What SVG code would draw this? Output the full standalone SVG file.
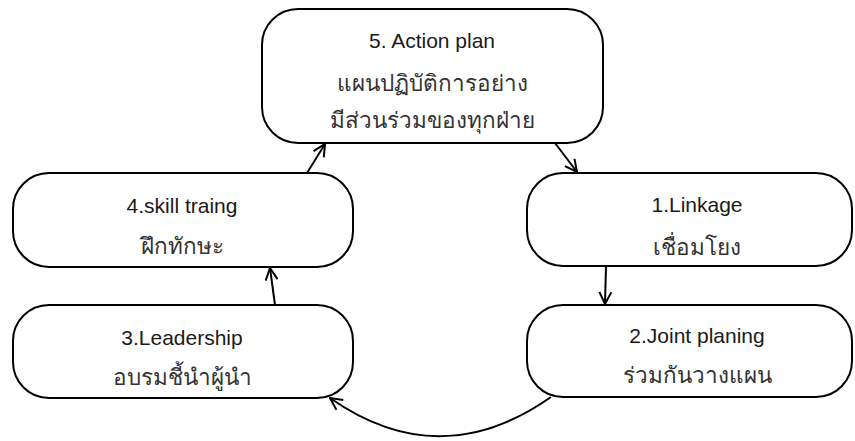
<svg xmlns="http://www.w3.org/2000/svg" width="855" height="441" viewBox="0 0 855 441">
<defs>
<style>
.box{fill:#fff;stroke:#000;stroke-width:2}
.t{font-family:"Liberation Sans","Noto Sans",sans-serif;font-size:21px;fill:#1a1a1a;text-anchor:middle}
.th{font-family:"Liberation Sans","Noto Sans",sans-serif;font-size:22.5px;fill:#333;text-anchor:middle}
.c{fill:none;stroke:#000;stroke-width:2}
</style>
<marker id="ah" viewBox="0 0 14 14" refX="13" refY="7" markerWidth="14" markerHeight="14" markerUnits="userSpaceOnUse" orient="auto">
<path d="M1,1 L13,7 L1,13" fill="none" stroke="#000" stroke-width="2"/>
</marker>
</defs>
<g id="connectors">
<path class="c" d="M307,173 L325,144" marker-end="url(#ah)"/>
<path class="c" d="M555,143 L577,172" marker-end="url(#ah)"/>
<path class="c" d="M606,266 L605,304" marker-end="url(#ah)"/>
<path class="c" d="M551,397 Q440,475 330,398" marker-end="url(#ah)"/>
<path class="c" d="M275,305 L270,268" marker-end="url(#ah)"/>
</g>
<g id="n5">
<rect class="box" x="262" y="9" width="341" height="134" rx="36"/>
<text class="t" x="432" y="48">5. Action plan</text>
<text class="th" x="432" y="91">แผนปฏิบัติการอย่าง</text>
<text class="th" x="432" y="128">มีส่วนร่วมของทุกฝ่าย</text>
</g>
<g id="n4">
<rect class="box" x="13" y="173" width="340" height="94" rx="36"/>
<text class="t" x="182" y="213">4.skill traing</text>
<text class="th" x="182" y="254">ฝึกทักษะ</text>
</g>
<g id="n3">
<rect class="box" x="13" y="305" width="340" height="93" rx="36"/>
<text class="t" x="182" y="345">3.Leadership</text>
<text class="th" x="182" y="385">อบรมชี้นำผู้นำ</text>
</g>
<g id="n1">
<rect class="box" x="527" y="173" width="325" height="93" rx="36"/>
<text class="t" x="697" y="212">1.Linkage</text>
<text class="th" x="697" y="255">เชื่อมโยง</text>
</g>
<g id="n2">
<rect class="box" x="527" y="305" width="325" height="92" rx="36"/>
<text class="t" x="697" y="343">2.Joint planing</text>
<text class="th" x="697" y="383">ร่วมกันวางแผน</text>
</g>
</svg>
